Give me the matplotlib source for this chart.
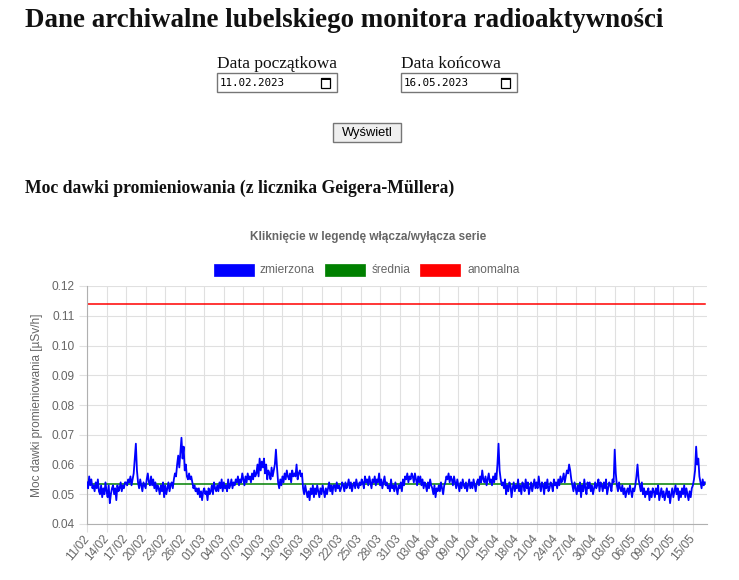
import numpy as np
import pandas as pd
import matplotlib
matplotlib.use('Agg')
import matplotlib.pyplot as plt
import matplotlib.dates as mdates
from matplotlib.patches import Rectangle

W, H = 739, 580

# odczyty co 4 godziny, w tysięcznych uSv/h (6 na dzień, od 11/02)
dose_milli = [
    54, 52, 56, 53, 55, 52,  53, 51, 54, 52, 55, 51,  50, 53, 49, 52, 50, 54,  # 11-13/02
    51, 49, 53, 47, 50, 52,  53, 50, 52, 48, 53, 51,  52, 54, 51, 53, 52, 54,  # 14-16/02
    54, 53, 55, 54, 56, 53,  55, 57, 62, 67, 58, 54,  52, 55, 53, 51, 54, 53,  # 17-19/02
    52, 55, 57, 54, 53, 56,  53, 55, 52, 54, 51, 53,  52, 50, 53, 51, 54, 49,  # 20-22/02
    53, 50, 52, 54, 51, 53,  54, 52, 55, 57, 56, 60,  63, 59, 64, 69, 62, 66,  # 23-25/02
    58, 60, 56, 55, 57, 55,  56, 54, 52, 53, 51, 52,  50, 52, 49, 51, 48, 51,  # 26-28/02
    52, 50, 51, 48, 52, 50,  51, 53, 50, 54, 52, 51,  53, 51, 54, 52, 55, 51,  # 01-03/03
    54, 52, 53, 51, 55, 52,  53, 55, 52, 54, 53, 55,  54, 56, 53, 55, 54, 57,  # 04-06/03
    55, 53, 56, 54, 57, 55,  56, 54, 57, 55, 58, 56,  57, 60, 56, 62, 58, 61,  # 07-09/03
    59, 62, 57, 60, 55, 58,  57, 55, 59, 56, 58, 60,  65, 59, 54, 52, 55, 53,  # 10-12/03
    56, 54, 57, 55, 58, 56,  55, 57, 54, 58, 56, 57,  56, 60, 55, 57, 58, 56,  # 13-15/03
    57, 52, 50, 53, 51, 49,  51, 48, 52, 50, 53, 49,  52, 50, 53, 51, 49, 52,  # 16-18/03
    50, 53, 51, 49, 52, 50,  52, 54, 51, 53, 50, 53,  53, 51, 54, 52, 53, 51,  # 19-21/03
    52, 54, 53, 51, 54, 52,  53, 55, 52, 54, 51, 53,  54, 52, 55, 53, 52, 54,  # 22-24/03
    53, 55, 54, 52, 56, 54,  55, 53, 56, 54, 52, 55,  54, 56, 53, 55, 54, 57,  # 25-27/03
    53, 55, 52, 54, 56, 53,  54, 52, 53, 51, 55, 52,  53, 51, 54, 52, 50, 53,  # 28-30/03
    52, 54, 51, 55, 53, 56,  55, 57, 54, 56, 55, 57,  56, 54, 57, 55, 53, 56,  # 31/03-02/04
    54, 56, 53, 55, 52, 54,  53, 51, 54, 52, 55, 53,  52, 50, 53, 49, 52, 51,  # 03-05/04
    53, 51, 54, 52, 50, 53,  54, 56, 55, 57, 54, 56,  55, 53, 56, 54, 52, 55,  # 06-08/04
    53, 51, 54, 52, 55, 53,  52, 54, 51, 53, 55, 52,  54, 52, 55, 53, 51, 54,  # 09-11/04
    55, 53, 56, 54, 58, 55,  54, 56, 53, 55, 57, 54,  55, 53, 56, 54, 57, 55,  # 12-14/04
    60, 67, 58, 55, 53, 54,  52, 55, 50, 53, 51, 54,  53, 49, 52, 54, 51, 53,  # 15-17/04
    52, 55, 51, 53, 50, 54,  53, 51, 55, 52, 54, 50,  52, 54, 51, 53, 55, 52,  # 18-20/04
    54, 52, 56, 53, 51, 54,  53, 50, 54, 52, 55, 51,  52, 54, 53, 51, 55, 53,  # 21-23/04
    54, 52, 55, 53, 56, 54,  55, 57, 54, 56, 58, 57,  60, 58, 55, 53, 51, 54,  # 24-26/04
    52, 50, 53, 51, 54, 49,  53, 51, 55, 52, 50, 54,  52, 54, 51, 53, 50, 52,  # 27-29/04
    54, 52, 53, 55, 51, 54,  53, 51, 54, 52, 55, 50,  52, 54, 53, 51, 55, 54,  # 30/04-02/05
    65, 57, 53, 51, 54, 52,  51, 53, 50, 52, 49, 51,  52, 50, 53, 51, 49, 52,  # 03-05/05
    51, 53, 56, 60, 55, 53,  51, 54, 50, 52, 49, 51,  50, 52, 48, 51, 49, 52,  # 06-08/05
    51, 49, 52, 50, 53, 48,  50, 52, 49, 51, 48, 50,  52, 49, 51, 47, 50, 52,  # 09-11/05
    49, 51, 53, 50, 52, 48,  51, 49, 52, 50, 53, 49,  52, 50, 48, 51, 49, 52,  # 12-14/05
    53, 55, 58, 66, 60, 62,  56, 54, 52, 55, 53, 54,                           # 15-16/05
]
mean_dose = 0.0533
anomaly_dose = 0.114
start_date = '2023-02-11'
last_tick = '2023-05-15'

input_labels = ['Data początkowa', 'Data końcowa']
input_values = ['11.02.2023', '16.05.2023']
legend_labels = ['zmierzona', 'średnia', 'anomalna']
legend_colors = ['#0000ff', '#008000', '#ff0000']

dose = np.array(dose_milli) / 1000.0
times = pd.date_range(start_date, periods=len(dose), freq='4h')

fig = plt.figure(figsize=(W / 100, H / 100), dpi=100)
fig.patch.set_facecolor('white')


def fx(x):
    return x / W


def fy(y):
    return 1 - y / H


gray = '#666666'
serif = 'Liberation Serif'
sans = 'Liberation Sans'

# nagłówki strony
fig.text(fx(25), fy(27), 'Dane archiwalne lubelskiego monitora radioaktywności',
         fontsize=19.4, fontweight='bold', family=serif, va='baseline', color='#111111')
fig.text(fx(25), fy(193), 'Moc dawki promieniowania (z licznika Geigera-Müllera)',
         fontsize=12.7, fontweight='bold', family=serif, va='baseline', color='#111111')

# pola z datami
for x0, w, lab, val in zip([217, 401], [120, 116], input_labels, input_values):
    fig.text(fx(x0), fy(68), lab, fontsize=12.5, family=serif, va='baseline', color='#111111')
    fig.add_artist(Rectangle((fx(x0), fy(92)), w / W, 19 / H, transform=fig.transFigure,
                             facecolor='white', edgecolor='#767676', lw=1))
    fig.text(fx(x0 + 3), fy(83), val, fontsize=7.8, family='DejaVu Sans Mono', va='center')
    ix = x0 + w - 16
    fig.add_artist(Rectangle((fx(ix), fy(88)), 9 / W, 10 / H, transform=fig.transFigure,
                             facecolor='none', edgecolor='black', lw=0.9))
    fig.add_artist(Rectangle((fx(ix), fy(80)), 9 / W, 2 / H, transform=fig.transFigure,
                             facecolor='black', edgecolor='none'))

# przycisk
fig.add_artist(Rectangle((fx(333), fy(142)), 68 / W, 19 / H, transform=fig.transFigure,
                         facecolor='#efefef', edgecolor='#767676', lw=1))
fig.text(fx(367), fy(133), 'Wyświetl', fontsize=9.3, family=sans, ha='center', va='center')

# tytuł wykresu i legenda
fig.text(fx(368), fy(237), 'Kliknięcie w legendę włącza/wyłącza serie', fontsize=8.5,
         fontweight='bold', family=sans, color=gray, ha='center', va='center')
for bx, tx, lab, col in zip([214, 325, 420], [260, 372, 467], legend_labels, legend_colors):
    fig.add_artist(Rectangle((fx(bx), fy(276)), 40 / W, 12 / H, transform=fig.transFigure,
                             facecolor=col, edgecolor=col, lw=0.5))
    fig.text(fx(tx), fy(270), lab, fontsize=8.6, family=sans, color=gray, va='center')

# wykres
ax = fig.add_axes([fx(87), fy(524), 620 / W, 238 / H])
ax.plot(times, dose, color=legend_colors[0], lw=1.3, zorder=3)
ax.plot(times, np.full(len(times), mean_dose), color=legend_colors[1], lw=1.1, zorder=2)
ax.plot(times, np.full(len(times), anomaly_dose), color=legend_colors[2], lw=1.1, zorder=2)

ax.set_ylim(0.04, 0.12)
ax.set_yticks(np.arange(0.04, 0.1201, 0.01))
ax.yaxis.set_major_formatter(plt.FormatStrFormatter('%.2f'))
ax.set_xlim(times[0], times[-1] + pd.Timedelta(hours=8))
ax.set_xticks(pd.date_range(start_date, last_tick, freq='3D'))
ax.xaxis.set_major_formatter(mdates.DateFormatter('%d/%m'))

ax.grid(True, color='#e0e0e0', lw=0.8)
ax.set_axisbelow(True)
for s in ['top', 'right']:
    ax.spines[s].set_visible(False)
for s in ['left', 'bottom']:
    ax.spines[s].set_color('#b0b0b0')
    ax.spines[s].set_linewidth(0.8)
ax.tick_params(axis='both', length=6, width=0.8, color='#e0e0e0', labelcolor=gray,
               labelsize=8.6, pad=3)
for lab in ax.get_yticklabels():
    lab.set_family(sans)
for lab in ax.get_xticklabels():
    lab.set_family(sans)
    lab.set_rotation(50)
    lab.set_ha('right')
    lab.set_va('center')
    lab.set_rotation_mode('anchor')

fig.text(fx(37), fy(405), 'Moc dawki promieniowania [µSv/h]', fontsize=8.6, family=sans,
         color=gray, rotation=90, ha='center', va='center')

fig.savefig('out.png', dpi=100)
